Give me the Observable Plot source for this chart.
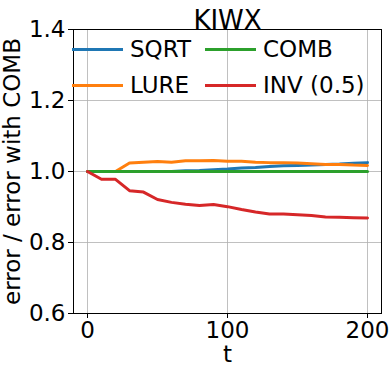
<!DOCTYPE html>
<html><head><meta charset="utf-8">
<script src="https://cdn.jsdelivr.net/npm/d3@7"></script>
<script src="https://cdn.jsdelivr.net/npm/@observablehq/plot@0.6"></script>
<style>
body{margin:0;background:#fff;font-family:"DejaVu Sans",sans-serif;}
#wrap{position:relative;width:391px;height:366px;overflow:hidden;}
.leg{position:absolute;display:flex;align-items:center;font-size:23px;color:#000;white-space:nowrap;}
.leg span.sw{display:inline-block;width:51px;height:3px;margin-right:7px;}
</style></head>
<body><div id="wrap"></div>
<script>
const title = "KIWX";
const t = [0,10,20,30,40,50,60,70,80,90,100,110,120,130,140,150,160,170,180,190,200];
const sqrt = [1.0,1.0,1.0,1.0,1.0,1.0,1.0,1.002,1.003,1.005,1.007,1.010,1.011,1.014,1.016,1.017,1.018,1.020,1.021,1.023,1.025];
const lure = [1.0,1.0,1.0,1.024,1.026,1.028,1.026,1.030,1.030,1.031,1.029,1.029,1.026,1.025,1.025,1.024,1.022,1.020,1.020,1.018,1.017];
const comb = [1.0,1.0,1.0,1.0,1.0,1.0,1.0,1.0,1.0,1.0,1.0,1.0,1.0,1.0,1.0,1.0,1.0,1.0,1.0,1.0,1.0];
const inv = [1.0,0.978,0.978,0.946,0.942,0.921,0.913,0.908,0.904,0.907,0.901,0.893,0.886,0.880,0.880,0.878,0.876,0.872,0.871,0.870,0.869];
const seriesNames = ["SQRT","LURE","COMB","INV (0.5)"];
const seriesValues = [sqrt, lure, comb, inv];
const colors = ["#1f77b4","#ff7f0e","#2ca02c","#d62728"];
const xTicks = [0,100,200];
const yTicks = [0.6,0.8,1.0,1.2,1.4];

const rows = [];
seriesNames.forEach((s,i)=>t.forEach((tt,j)=>rows.push({t:tt, v:seriesValues[i][j], s})));

const chart = Plot.plot({
  width: 391, height: 366,
  marginLeft: 73, marginRight: 10, marginTop: 29, marginBottom: 53,
  style: {fontFamily: "DejaVu Sans", fontSize: "23px", color: "#000", background: "#fff", overflow: "visible"},
  x: {domain: [-10, 210], ticks: xTicks, label: null},
  y: {domain: [0.6, 1.4], ticks: yTicks, label: null},
  color: {domain: seriesNames, range: colors},
  marks: [
    Plot.gridX(xTicks, {stroke: "#b0b0b0", strokeOpacity: 1, strokeWidth: 0.8}),
    Plot.gridY(yTicks, {stroke: "#b0b0b0", strokeOpacity: 1, strokeWidth: 0.8}),
    Plot.lineY(rows, {x: "t", y: "v", z: "s", stroke: "s", strokeWidth: 3}),
    Plot.frame({stroke: "#000", strokeWidth: 1}),
    Plot.axisX(xTicks, {tickSize: 5, tickPadding: 3, tickFormat: d => String(d), fontSize: 23,
      label: "t", labelAnchor: "center", labelArrow: "none", labelOffset: 48}),
    Plot.axisY(yTicks, {tickSize: 5, tickPadding: 3, tickFormat: d => d.toFixed(1), fontSize: 23,
      label: "error / error with COMB", labelAnchor: "center", labelArrow: "none", labelOffset: 70}),
    Plot.text([title], {frameAnchor: "top", dy: -19, fontSize: 26, text: d => d})
  ]
});
const wrap = document.getElementById("wrap");
wrap.appendChild(chart);

const legPos = [[72,49],[72,85],[205,49],[205,85]];
seriesNames.forEach((s,i)=>{
  const d = document.createElement("div");
  d.className = "leg";
  d.style.left = legPos[i][0] + "px";
  d.style.top = (legPos[i][1] - 14) + "px";
  d.style.height = "28px";
  d.innerHTML = `<span class="sw" style="background:${colors[i]}"></span>${s}`;
  wrap.appendChild(d);
});
</script></body></html>
